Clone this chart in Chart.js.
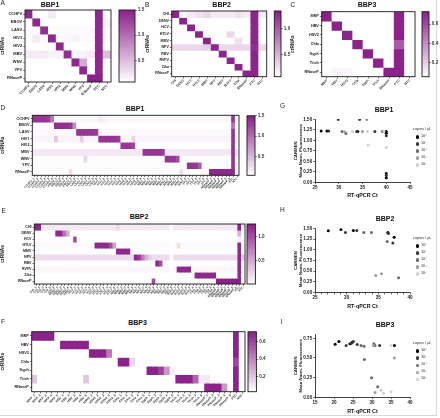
<!DOCTYPE html>
<html><head><meta charset="utf-8">
<script src="https://cdn.jsdelivr.net/npm/chart.js@4"></script>
<style>
html,body{margin:0;padding:0;background:#fff;}
body{width:440px;height:418px;position:relative;overflow:hidden;font-family:"Liberation Sans",Arial,sans-serif;}
canvas{position:absolute;}
.t{position:absolute;font-weight:bold;font-size:7px;transform:translate(-50%,-50%);white-space:nowrap;color:#111;}
.l{position:absolute;font-size:6.5px;color:#222;line-height:1;}
.lg{position:absolute;font-size:3.8px;color:#333;line-height:1;white-space:nowrap;}
.lg .row{position:absolute;left:0;white-space:nowrap;}
.lg .dot{position:absolute;width:3.4px;height:3.4px;border-radius:50%;left:3px;top:-1.7px;}
.lg .txt{position:absolute;left:8px;top:-2px;}
.frame{position:absolute;left:0;top:0;width:436px;height:415px;border-right:1px solid #d8d8d8;border-bottom:1px solid #d8d8d8;}
</style></head><body>
<div class="frame"></div>
<script>
// ---------------- DATA ----------------
// Panel A (BBP1 summary)
const aRows = ["CCHFV","EBOV","LASV","HIV1","HIV2","MBV","WNV","YFV","RNaseP"];
const aCols = ["CCHFV","EBOV","LASV","HIV1","HIV2","MBV","WNV","YFV","RNaseP","PTC","NTC"];
const aCCHFV = [1.45,0.05,0.05,0.2,0.05,0.05,0.05,0.05,0.05,1.45,0.1];
const aEBOV  = [0.05,1.45,0.05,0.05,0.05,0.05,0.05,0.05,0.05,1.45,0.15];
const aLASV  = [0.1,0.1,1.4,0.1,0.1,0.1,0.1,0.1,0.1,1.45,0.1];
const aHIV1  = [0.1,0.2,0.1,1.45,0.1,0.12,0.15,0.1,0.1,1.45,0.1];
const aHIV2  = [0.05,0.05,0.05,0.05,1.45,0.05,0.05,0.05,0.05,1.45,0.05];
const aMBV   = [0.2,0.2,0.2,0.15,0.15,1.4,0.15,0.15,0.2,1.45,0.5];
const aWNV   = [0.05,0.05,0.05,0.05,0.05,0.05,1.45,0.6,0.05,1.45,0.05];
const aYFV   = [0.05,0.05,0.05,0.05,0.05,0.05,0.05,1.45,0.05,1.45,0.05];
const aRNaseP= [0.05,0.05,0.05,0.05,0.05,0.05,0.05,0.05,1.5,1.5,0.05];

// Panel B (BBP2 summary)
const bRows = ["CHI","DENV","HCV","HTLV","MMV","NPV","RBV","RVFV","Zika","RNaseP"];
const bCols = ["CHI","DENV","HCV","HTLV","MMV","NPV","RBV","RVFV","Zika","RNaseP","PTC","NTC"];
const bCHI   = [1.3,0.15,0.2,0.25,0.3,0.2,0.2,0.2,0.25,0.2,1.3,0.2];
const bDENV  = [0.03,1.3,0.03,0.03,0.03,0.03,0.03,0.03,0.03,0.03,1.3,0.03];
const bHCV   = [0.03,0.03,1.3,0.03,0.03,0.03,0.03,0.03,0.03,0.03,1.3,0.03];
const bHTLV  = [0.1,0.1,0.1,1.3,0.1,0.1,0.1,0.3,0.1,0.1,1.3,0.1];
const bMMV   = [0.05,0.05,0.05,0.05,1.3,0.05,0.05,0.05,0.25,0.05,1.3,0.05];
const bNPV   = [0.3,0.3,0.3,0.3,0.35,1.3,0.3,0.3,0.3,0.3,1.25,0.3];
const bRBV   = [0.05,0.05,0.05,0.05,0.05,0.05,1.3,0.05,0.05,0.05,1.3,0.05];
const bRVFV  = [0.1,0.1,0.1,0.1,0.1,0.1,0.1,1.3,0.1,0.1,1.3,0.1];
const bZika  = [0.03,0.03,0.03,0.03,0.03,0.03,0.03,0.03,1.3,0.03,1.3,0.03];
const bRNaseP= [0.03,0.03,0.03,0.03,0.03,0.03,0.03,0.03,0.03,1.3,1.3,0.03];

// Panel C (BBP3 summary)
const cRows = ["MKP","HBV","HSV2","Chla","Syph","Trich","RNaseP"];
const cCols = ["MKP","HBV","HSV2","Chla","Syph","Trich","RNaseP","PTC","NTC"];
const cMKP   = [0.72,0.04,0.04,0.04,0.04,0.04,0.04,0.72,0.02];
const cHBV   = [0.03,0.72,0.03,0.03,0.03,0.03,0.03,0.72,0.02];
const cHSV2  = [0.03,0.03,0.72,0.03,0.03,0.03,0.03,0.72,0.02];
const cChla  = [0.03,0.03,0.03,0.72,0.03,0.03,0.03,0.55,0.02];
const cSyph  = [0.04,0.04,0.04,0.04,0.72,0.04,0.04,0.72,0.02];
const cTrich = [0.03,0.03,0.03,0.03,0.03,0.72,0.03,0.72,0.02];
const cRNaseP= [0.03,0.08,0.08,0.03,0.03,0.03,0.72,0.72,0.02];

// Panel D (BBP1 per sample)
const dRows = aRows;
const dCols = ("CCHFV_1,CCHFV_2,CCHFV_3,CCHFV_4,CCHFV_5,CCHFV_6,EBOV_1,EBOV_2,EBOV_3,EBOV_4,EBOV_5,EBOV_6,"+
 "LASV_1,LASV_2,LASV_3,LASV_4,LASV_5,LASV_6,HIV1_1,HIV1_2,HIV1_3,HIV1_4,HIV1_5,HIV1_6,"+
 "HIV2_1,HIV2_2,HIV2_3,HIV2_4,HIV2_5,HIV2_6,MBV_1,MBV_2,MBV_3,MBV_4,MBV_5,MBV_6,"+
 "WNV_1,WNV_2,WNV_3,WNV_4,WNV_5,WNV_6,YFV_1,YFV_2,YFV_3,YFV_4,YFV_5,YFV_6,"+
 "RNaseP_1,RNaseP_2,RNaseP_3,RNaseP_4,RNaseP_5,RNaseP_6,PTC,NTC").split(",");
const dCCHFV = [1.35,1.35,1.35,1.35,1.3,0.9, 0.08,0.08,0.08,0.08,0.08,0.08, 0.08,0.08,0.08,0.08,0.08,0.08, 0.15,0.12,0.08,0.08,0.08,0.08, 0.08,0.08,0.08,0.08,0.08,0.08, 0.08,0.08,0.08,0.08,0.08,0.08, 0.08,0.08,0.08,0.08,0.08,0.08, 0.08,0.08,0.08,0.08,0.08,0.08, 0.08,0.08,0.08,0.08,0.08,0.08, 1.35,0.06];
const dEBOV  = [0.03,0.03,0.03,0.03,0.03,0.03, 1.4,1.4,1.4,1.4,1.35,0.8, 0.03,0.03,0.03,0.03,0.03,0.03, 0.03,0.03,0.03,0.03,0.03,0.03, 0.03,0.03,0.03,0.03,0.03,0.03, 0.03,0.03,0.03,0.03,0.03,0.03, 0.03,0.03,0.03,0.03,0.03,0.03, 0.03,0.03,0.03,0.03,0.03,0.03, 0.03,0.03,0.03,0.03,0.03,0.03, 1.0,0.05];
const dLASV  = [0.07,0.07,0.07,0.07,0.07,0.07, 0.07,0.07,0.07,0.07,0.07,0.07, 1.35,1.35,1.35,1.35,1.35,1.3, 0.07,0.07,0.07,0.07,0.07,0.07, 0.07,0.07,0.07,0.07,0.07,0.07, 0.07,0.07,0.07,0.07,0.07,0.07, 0.07,0.07,0.07,0.07,0.07,0.07, 0.07,0.07,0.07,0.07,0.07,0.07, 0.07,0.07,0.07,0.07,0.07,0.07, 1.35,0.07];
const dHIV1  = [0.1,0.1,0.1,0.1,0.1,0.1, 0.4,0.1,0.1,0.1,0.1,0.1, 0.1,0.35,0.1,0.1,0.1,0.1, 1.35,1.35,1.35,1.35,1.35,1.3, 0.1,0.1,0.1,0.3,0.1,0.1, 0.1,0.1,0.1,0.1,0.1,0.1, 0.1,0.1,0.1,0.1,0.1,0.1, 0.1,0.1,0.1,0.1,0.1,0.1, 0.1,0.1,0.1,0.1,0.1,0.1, 1.35,0.1];
const dHIV2  = [0.03,0.03,0.03,0.03,0.03,0.03, 0.03,0.03,0.03,0.03,0.03,0.03, 0.03,0.03,0.03,0.03,0.03,0.03, 0.03,0.03,0.03,0.03,0.03,0.03, 1.35,1.35,1.35,1.25,0.03,0.03, 0.03,0.03,0.03,0.03,0.03,0.03, 0.03,0.03,0.03,0.03,0.03,0.03, 0.03,0.03,0.03,0.03,0.03,0.03, 0.03,0.03,0.03,0.03,0.03,0.03, 1.35,0.03];
const dMBV   = [0.18,0.18,0.18,0.18,0.18,0.18, 0.18,0.18,0.18,0.18,0.18,0.18, 0.18,0.18,0.18,0.18,0.18,0.18, 0.18,0.18,0.18,0.18,0.18,0.18, 0.18,0.18,0.18,0.18,0.18,0.18, 1.35,1.35,1.35,1.35,1.35,1.3, 0.18,0.18,0.18,0.18,0.18,0.18, 0.18,0.18,0.18,0.18,0.18,0.18, 0.18,0.18,0.18,0.18,0.18,0.18, 1.35,0.2];
const dWNV   = [0.04,0.04,0.04,0.04,0.04,0.04, 0.04,0.04,0.04,0.04,0.04,0.04, 0.04,0.04,0.3,0.04,0.04,0.04, 0.04,0.04,0.04,0.04,0.04,0.04, 0.04,0.04,0.04,0.04,0.04,0.04, 0.04,0.04,0.04,0.04,0.04,0.04, 1.35,1.35,1.35,1.2,0.04,0.04, 0.04,0.04,0.04,0.04,0.04,0.04, 0.04,0.04,0.04,0.04,0.04,0.04, 1.35,0.04];
const dYFV   = [0.05,0.05,0.05,0.05,0.05,0.05, 0.05,0.05,0.05,0.05,0.05,0.05, 0.05,0.05,0.05,0.05,0.05,0.05, 0.05,0.05,0.05,0.05,0.05,0.05, 0.05,0.05,0.05,0.05,0.05,0.05, 0.05,0.05,0.05,0.05,0.05,0.05, 0.05,0.05,0.05,0.05,0.05,0.05, 1.35,1.35,1.35,1.1,0.05,0.05, 0.05,0.05,0.05,0.05,0.05,0.05, 1.35,0.05];
const dRNaseP= [0.03,0.03,0.03,0.03,0.03,0.03, 0.03,0.03,0.03,0.03,0.25,0.03, 0.03,0.03,0.03,0.03,0.03,0.03, 0.03,0.03,0.03,0.03,0.03,0.03, 0.03,0.03,0.03,0.03,0.03,0.03, 0.03,0.03,0.03,0.03,0.03,0.03, 0.03,0.03,0.03,0.03,0.25,0.03, 0.03,0.03,0.03,0.03,0.03,0.03, 1.45,1.45,1.45,1.45,1.45,1.45, 1.45,0.05];

// Panel E (BBP2 per sample)
const eRows = bRows;
const eCols = ("CHI_1,CHI_2,CHI_3,CHI_4,CHI_5,CHI_6,DENV_1,DENV_2,DENV_3,DENV_4,DENV_5,"+
 "HCV_1,HCV_2,HCV_3,HCV_4,HCV_5,HCV_6,HTLV_1,HTLV_2,HTLV_3,HTLV_4,HTLV_5,HTLV_6,"+
 "MMV_1,MMV_2,MMV_3,MMV_4,MMV_5,NPV_1,NPV_2,NPV_3,NPV_4,NPV_5,NPV_6,RBV_1,RBV_2,RBV_3,RBV_4,RBV_5,"+
 "RVFV_1,RVFV_2,RVFV_3,RVFV_4,RVFV_5,RVFV_6,Zika_1,Zika_2,Zika_3,Zika_4,Zika_5,Zika_6,"+
 "RNaseP_1,RNaseP_2,RNaseP_3,RNaseP_4,RNaseP_5,RNaseP_6,PTC,NTC").split(",");
const eCHI   = [1.25,1.2,0.15,0.15,0.15,0.15, 0.15,0.15,0.15,0.15,0.15, 0.15,0.15,0.15,0.15,0.15,0.15, 0.15,0.15,0.15,0.15,0.15,0.15, 0.25,0.15,0.15,0.15,0.15, 0.15,0.15,0.15,0.15,0.15,0.15, 0.15,0.15,0.15,0.15,0, 0.15,0.15,0.15,0.15,0.15,0.15, 0.15,0.15,0.15,0.15,0.15,0.15, 0.15,0.15,0.15,0.15,0.15,0.15, 1.25,0.15];
const eDENV  = [0.02,0.02,0.02,0.02,0.02,0.02, 1.2,1.2,0.8,0.5,0.02, 0.02,0.02,0.02,0.02,0.02,0.02, 0.02,0.02,0.02,0.02,0.02,0.02, 0.02,0.02,0.02,0.02,0.02, 0.02,0.02,0.02,0.02,0.02,0.02, 0.02,0.02,0.02,0.02,0, 0.02,0.02,0.02,0.02,0.02,0.02, 0.02,0.02,0.02,0.02,0.02,0.02, 0.02,0.02,0.02,0.02,0.02,0.02, 0.45,0.02];
const eHCV   = [0.02,0.02,0.02,0.02,0.02,0.02, 0.02,0.02,0.02,0.02,0.02, 1.0,0.02,0.02,0.02,0.02,0.02, 0.02,0.02,0.02,0.02,0.02,0.02, 0.02,0.02,0.02,0.02,0.02, 0.02,0.02,0.02,0.02,0.02,0.02, 0.02,0.02,0.02,0.02,0, 0.02,0.02,0.02,0.02,0.02,0.02, 0.02,0.02,0.02,0.02,0.02,0.02, 0.02,0.02,0.02,0.02,0.02,0.02, 0.1,0.02];
const eHTLV  = [0.06,0.06,0.06,0.06,0.06,0.06, 0.06,0.06,0.06,0.06,0.06, 0.06,0.06,0.06,0.06,0.06,0.06, 1.2,1.2,1.2,1.2,1.0,0.55, 0.06,0.06,0.06,0.06,0.06, 0.06,0.06,0.06,0.06,0.06,0.06, 0.06,0.06,0.06,0.06,0, 0.06,0.2,0.06,0.06,0.06,0.06, 0.06,0.06,0.06,0.06,0.06,0.06, 0.06,0.06,0.06,0.06,0.06,0.06, 1.2,0.06];
const eMMV   = [0.04,0.04,0.04,0.04,0.04,0.04, 0.04,0.04,0.04,0.04,0.04, 0.04,0.04,0.04,0.04,0.04,0.04, 0.04,0.04,0.04,0.04,0.04,0.04, 1.2,1.2,1.2,1.2,0.04, 0.04,0.04,0.04,0.04,0.04,0.04, 0.04,0.04,0.04,0.04,0, 0.04,0.04,0.04,0.04,0.04,0.04, 0.04,0.04,0.04,0.04,0.04,0.04, 0.04,0.04,0.04,0.04,0.04,0.04, 1.2,0.04];
const eNPV   = [0.22,0.22,0.22,0.22,0.22,0.22, 0.22,0.22,0.22,0.22,0.22, 0.22,0.22,0.22,0.22,0.22,0.22, 0.22,0.22,0.22,0.22,0.22,0.22, 0.22,0.22,0.22,0.22,0.22, 1.2,1.1,0.75,0.45,0.3,0.22, 0.22,0.22,0.22,0.22,0, 0.22,0.22,0.22,0.22,0.22,0.22, 0.22,0.22,0.22,0.22,0.22,0.22, 0.22,0.22,0.22,0.22,0.22,0.22, 1.2,0.3];
const eRBV   = [0.03,0.03,0.03,0.03,0.03,0.03, 0.03,0.03,0.03,0.03,0.03, 0.03,0.03,0.03,0.03,0.03,0.03, 0.03,0.03,0.03,0.03,0.03,0.03, 0.03,0.03,0.03,0.03,0.03, 0.03,0.03,0.03,0.03,0.03,0.03, 1.2,1.0,0.03,0.03,0, 0.03,0.03,0.03,0.03,0.03,0.03, 0.03,0.03,0.03,0.03,0.03,0.03, 0.03,0.03,0.03,0.03,0.03,0.03, 1.2,0.03];
const eRVFV  = [0.08,0.08,0.08,0.08,0.08,0.08, 0.08,0.08,0.08,0.08,0.08, 0.08,0.08,0.08,0.08,0.08,0.08, 0.08,0.08,0.08,0.08,0.08,0.08, 0.08,0.08,0.08,0.08,0.08, 0.08,0.08,0.08,0.08,0.08,0.08, 0.08,0.08,0.08,0.08,0, 0.08,1.2,1.2,1.2,1.2,0.08, 0.08,0.08,0.08,0.08,0.08,0.08, 0.08,0.08,0.08,0.08,0.08,0.08, 1.2,0.08];
const eZika  = [0.03,0.03,0.03,0.03,0.03,0.03, 0.03,0.03,0.03,0.03,0.03, 0.03,0.03,0.03,0.03,0.03,0.03, 0.03,0.03,0.03,0.03,0.03,0.03, 0.03,0.03,0.03,0.03,0.03, 0.03,0.03,0.03,0.03,0.03,0.03, 0.03,0.03,0.03,0.03,0, 0.03,0.03,0.03,0.03,0.03,0.03, 1.2,1.2,1.2,1.2,1.2,1.2, 0.03,0.03,0.03,0.03,0.03,0.03, 1.2,0.03];
const eRNaseP= [0.02,0.02,0.02,0.02,0.02,0.02, 0.02,0.02,0.02,0.02,0.02, 0.02,0.02,0.02,0.02,0.02,0.02, 0.02,0.02,0.02,0.02,0.02,0.02, 0.02,0.02,0.02,0.02,0.02, 0.02,0.02,0.02,0.02,0.02,1.0, 0.02,0.02,0.02,0.02,0, 0.02,0.02,0.02,0.02,0.02,0.02, 0.02,0.02,0.02,0.02,0.02,0.02, 1.25,1.25,1.25,1.25,1.25,1.25, 1.25,0.02];

// Panel F (BBP3 per sample)
const fRows = cRows;
const fCols = ("MKP_1,MKP_2,MKP_3,MKP_4,MKP_5,HBV_1,HBV_2,HBV_3,HBV_4,HBV_5,HSV2_1,HSV2_2,HSV2_3,HSV2_4,HSV2_5,"+
 "Chla_1,Chla_2,Chla_3,Chla_4,Chla_5,Syph_1,Syph_2,Syph_3,Syph_4,Syph_5,Trich_1,Trich_2,Trich_3,Trich_4,Trich_5,"+
 "RNaseP_1,RNaseP_2,RNaseP_3,RNaseP_4,RNaseP_5,PTC,NTC").split(",");
const fMKP   = [0.7,0.7,0.7,0.7,0.03, 0.03,0.03,0.03,0.03,0.03, 0.03,0.03,0.03,0.03,0.03, 0.03,0.03,0.03,0.03,0.03, 0.03,0.03,0.03,0.03,0.03, 0.03,0.03,0.03,0.03,0.03, 0.03,0.03,0.03,0.03,0.03, 0.7,0.02];
const fHBV   = [0.02,0.02,0.02,0.02,0.02, 0.7,0.7,0.7,0.7,0.7, 0.02,0.02,0.02,0.02,0.02, 0.02,0.02,0.02,0.02,0.02, 0.02,0.02,0.02,0.02,0.02, 0.02,0.02,0.02,0.02,0.02, 0.02,0.02,0.02,0.02,0.02, 0.7,0.02];
const fHSV2  = [0.02,0.02,0.02,0.02,0.02, 0.02,0.02,0.02,0.02,0.02, 0.7,0.7,0.7,0.45,0.02, 0.02,0.02,0.02,0.02,0.02, 0.02,0.02,0.02,0.02,0.02, 0.02,0.02,0.02,0.02,0.02, 0.02,0.02,0.02,0.02,0.02, 0.7,0.02];
const fChla  = [0.02,0.02,0.02,0.02,0.02, 0.02,0.02,0.02,0.02,0.02, 0.02,0.02,0.02,0.02,0.02, 0.7,0.7,0.15,0.02,0.02, 0.02,0.02,0.02,0.02,0.02, 0.02,0.02,0.02,0.02,0.02, 0.02,0.02,0.02,0.02,0.02, 0.6,0.02];
const fSyph  = [0.02,0.02,0.02,0.02,0.02, 0.02,0.02,0.02,0.02,0.02, 0.02,0.02,0.02,0.02,0.02, 0.02,0.02,0.02,0.02,0.02, 0.7,0.7,0.6,0.35,0.08, 0.02,0.02,0.02,0.02,0.02, 0.02,0.02,0.02,0.02,0.02, 0.7,0.02];
const fTrich = [0.2,0.02,0.02,0.02,0.02, 0.02,0.02,0.02,0.02,0.2, 0.02,0.02,0.02,0.02,0.02, 0.02,0.02,0.02,0.02,0.02, 0.02,0.02,0.02,0.02,0.02, 0.7,0.7,0.7,0.5,0.1, 0.1,0.02,0.02,0.02,0.02, 0.7,0.02];
const fRNaseP= [0.02,0.02,0.02,0.02,0.02, 0.02,0.02,0.02,0.02,0.02, 0.02,0.02,0.02,0.02,0.02, 0.02,0.02,0.02,0.02,0.02, 0.02,0.02,0.02,0.02,0.02, 0.02,0.02,0.02,0.02,0.02, 0.7,0.7,0.7,0.35,0.02, 0.7,0.02];

// Colour-bar tick labels
const abTicks = [0.5, 1.0, 1.5];
const bTicks = [0.5, 1.0];
const cTicks = [0.2, 0.4, 0.6];

// Scatter G (BBP1), H (BBP2), I (BBP3): Ct, fluorescence, concentration level index
const concLabels = ["10\u2076","10\u2075","10\u2074","10\u00b3","10\u00b2"];
const gCt = [26.3,27.5,27.9,29.9,30.7,31.3,31.5,32.9,33.8,34.0,34.4,35.0,35.9,36.0,36.2,37.6,39.2,39.5,40,40,40,40,40,40,40];
const gFl = [1.22,1.22,1.22,1.50,1.21,1.20,1.16,1.21,1.21,1.21,1.50,1.21,1.50,1.21,0.89,1.21,1.21,1.21,1.21,1.17,1.11,0.83,0.21,0.16,0.11];
const gLv = [0,0,1,0,2,3,2,4,1,0,0,3,2,4,4,1,2,4,0,0,1,4,0,1,0];
const hCt = [27.1,29.1,29.8,31.05,31.6,32.7,33.9,34.6,35.5,36.4,36.5,36.6,37.3,37.5,38.2];
const hFl = [1.445,1.47,1.40,1.45,1.45,1.40,1.40,0.40,0.44,1.19,1.40,1.38,1.16,1.29,0.35];
const hLv = [0,0,1,0,1,2,2,3,3,2,0,1,1,0,2];
const iCt = [20.3,21.3,23.2,24.2,24.5,24.8,25.1,26.1,27.1,27.9,28.0,29.9,30.4,30.5,30.8,30.8,31.5,32.0,32.4,33.0,35.0,35.0,35.9,35.9];
const iFl = [0.674,0.71,0.66,0.68,0.685,0.70,0.71,0.67,0.66,0.65,0.48,0.25,0.66,0.68,0.66,0.06,0.135,0.66,0.09,0.05,0.07,0.66,0.66,0.50];
const iLv = [0,0,1,0,1,0,1,1,2,2,2,2,3,2,2,3,2,1,4,4,4,4,0,3];

// ---------------- RENDERING ----------------
const FONT = '"Liberation Sans", Arial, sans-serif';
const PURPLE = [138, 32, 136];
const LEVEL_COLORS = ['#000000','#383838','#6a6a6a','#9c9c9c','#d0d0d0'];
Chart.defaults.font.family = FONT;
Chart.defaults.color = '#222';

function cmap(v, lo, hi){
  let t = (v - lo) / (hi - lo); t = Math.max(0, Math.min(1, t));
  const c = [0,1,2].map(k => Math.round(255 + (PURPLE[k]-255)*t));
  return `rgb(${c[0]},${c[1]},${c[2]})`;
}
function makeCanvas(left, top, w, h){
  const c = document.createElement('canvas');
  c.width = w; c.height = h;
  c.style.left = left+'px'; c.style.top = top+'px'; c.style.width = w+'px'; c.style.height = h+'px';
  document.body.appendChild(c);
  return c;
}
function addText(cls, txt, x, y, extra){
  const d = document.createElement('div'); d.className = cls; d.textContent = txt;
  d.style.left = x+'px'; d.style.top = y+'px';
  if (extra) Object.assign(d.style, extra);
  document.body.appendChild(d);
}
const frame = {id:'frame', afterDatasetsDraw(chart){
  const a = chart.chartArea, c = chart.ctx;
  c.save(); c.strokeStyle = '#1a1a1a'; c.lineWidth = 0.9;
  c.strokeRect(a.left, a.top, a.right - a.left, a.bottom - a.top); c.restore();
}};

function heatmap(o){
  const cv = makeCanvas(o.left, o.top, o.w, o.h);
  const R = o.rows.length;
  o.values.forEach((r,i)=>{ if(r.length!==o.cols.length) console.error('len mismatch', o.rows[i], r.length, o.cols.length); });
  const datasets = o.rows.map((name, r) => ({
    label: name,
    data: o.cols.map(() => [R-1-r, R-r]),
    backgroundColor: o.values[r].map(v => cmap(v, o.lo, o.hi)),
    borderWidth: 0, grouped: false, barPercentage: 1, categoryPercentage: 1, inflateAmount: 0.45
  }));
  const yW = o.box[0] - o.left, xH = o.top + o.h - o.box[3];
  new Chart(cv, {
    type: 'bar',
    data: {labels: o.cols, datasets},
    options: {
      responsive: false, animation: false, events: [],
      layout: {padding: {top: o.box[1] - o.top, right: o.left + o.w - o.box[2], left: 0, bottom: 0}},
      plugins: {legend: {display: false}, tooltip: {enabled: false}},
      scales: {
        x: {type: 'category', offset: true,
            grid: {offset: false, drawOnChartArea: false, tickLength: 1.8, color: '#222', lineWidth: 0.6},
            border: {display: false},
            ticks: {autoSkip: false, maxRotation: 45, minRotation: 45, padding: 0,
                    font: {size: o.xFont, weight: 'bold'}, color: '#333'},
            afterFit(s){ s.height = xH; }},
        y: {type: 'linear', min: 0, max: R,
            grid: {drawOnChartArea: false, tickLength: 1.8, color: '#222', lineWidth: 0.6},
            border: {display: false},
            afterBuildTicks(s){ s.ticks = o.rows.map((_, i) => ({value: R - 1 - i + 0.5})); },
            ticks: {autoSkip: false, padding: 1, font: {size: o.yFont, weight: 'bold'}, color: '#222',
                    callback: (v) => o.rows[R - 1 - Math.floor(v)]},
            title: {display: true, text: 'crRNAs', font: {size: 4.8, weight: 'bold'}, padding: 0, color: '#222'},
            afterFit(s){ s.width = yW; }}
      }
    },
    plugins: [frame]
  });
}

function colorbar(o){
  const cv = makeCanvas(o.left, o.top, o.w, o.h);
  new Chart(cv, {
    type: 'bar',
    data: {labels: [''], datasets: [{
      data: [[o.lo, o.hi]],
      backgroundColor: (ctx) => {
        const a = ctx.chart.chartArea; if (!a) return 'rgb(138,32,136)';
        const g = ctx.chart.ctx.createLinearGradient(0, a.bottom, 0, a.top);
        g.addColorStop(0, cmap(o.lo, o.lo, o.hi)); g.addColorStop(0.5, cmap((o.lo+o.hi)/2, o.lo, o.hi)); g.addColorStop(1, cmap(o.hi, o.lo, o.hi));
        return g;
      },
      barPercentage: 1, categoryPercentage: 1, borderWidth: 0}]},
    options: {
      responsive: false, animation: false, events: [],
      layout: {padding: {left: o.box[0] - o.left, top: o.box[1] - o.top, bottom: o.top + o.h - o.box[3], right: 0}},
      plugins: {legend: {display: false}, tooltip: {enabled: false}},
      scales: {
        x: {display: false},
        y: {position: 'right', min: o.lo, max: o.hi,
            afterBuildTicks(s){ s.ticks = o.ticks.map(v => ({value: v})); },
            ticks: {autoSkip: false, callback: v => v.toFixed(1), padding: 1, font: {size: 4.6, weight: 'bold'}, color: '#333'},
            grid: {drawOnChartArea: false, tickLength: 1.8, color: '#222', lineWidth: 0.6},
            border: {display: false},
            afterFit(s){ s.width = o.left + o.w - o.box[2]; }}
      }
    },
    plugins: [frame]
  });
}

function scatter(o){
  const cv = makeCanvas(o.left, o.top, o.w, o.h);
  const datasets = [4,3,2,1,0].map(L => ({
    label: concLabels[L],
    data: o.ct.map((x, i) => ({x, y: o.fl[i], l: o.lv[i]})).filter(p => p.l === L),
    pointBackgroundColor: LEVEL_COLORS[L], pointBorderWidth: 0, pointRadius: o.r, showLine: false
  }));
  const yW = o.box[0] - o.left, xH = o.top + o.h - o.box[3];
  new Chart(cv, {
    type: 'scatter',
    data: {datasets},
    options: {
      responsive: false, animation: false, events: [],
      layout: {padding: {top: o.box[1] - o.top, right: o.left + o.w - o.box[2], left: 0, bottom: 0}},
      plugins: {legend: {display: false}, tooltip: {enabled: false}},
      scales: {
        x: {type: 'linear', min: o.xmin, max: o.xmax,
            afterBuildTicks(s){ const t = []; for (let v = o.xmin; v <= o.xmax + 1e-9; v += o.xstep) t.push({value: v}); s.ticks = t; },
            ticks: {autoSkip: false, maxRotation: 0, padding: 0.5, font: {size: 4.6, weight: 'bold'}, color: '#222',
                    callback: v => (Math.abs(v % 5) < 1e-9 ? String(Math.round(v)) : '')},
            grid: {drawOnChartArea: false, tickLength: 1.8, color: '#111', lineWidth: 0.6},
            border: {display: true, color: '#111', width: 0.8},
            title: {display: true, text: 'RT-qPCR Ct', font: {size: 5.4, weight: 'bold'}, padding: 0, color: '#111'},
            afterFit(s){ s.height = xH; }},
        y: {type: 'linear', min: 0, max: o.ymax,
            ticks: {stepSize: 0.25, autoSkip: false, includeBounds: false, padding: 1, font: {size: 4.6, weight: 'bold'}, color: '#222',
                    callback: v => v.toFixed(2)},
            grid: {drawOnChartArea: false, tickLength: 1.8, color: '#111', lineWidth: 0.6},
            border: {display: true, color: '#111', width: 0.8},
            title: {display: true, text: ['CARMEN', 'Mean Norm. Fluorescence'], font: {size: 4.3, weight: 'bold'}, padding: 0, color: '#111'},
            afterFit(s){ s.width = yW; }}
      }
    }
  });
}

function legend(x, y, step){
  const d = document.createElement('div'); d.className = 'lg';
  d.style.left = x + 'px'; d.style.top = y + 'px';
  let html = '<div class="row" style="top:-2px;left:0">copies / \u00b5L</div>';
  concLabels.forEach((lab, i) => {
    html += `<div class="row" style="top:${7 + i*step}px"><span class="dot" style="background:${LEVEL_COLORS[i]}"></span><span class="txt">${lab}</span></div>`;
  });
  d.innerHTML = html;
  document.body.appendChild(d);
}

// ---- Panels A, B, C ----
heatmap({left: 0, top: 0, w: 113, h: 105, box: [25, 10, 111, 82], rows: aRows, cols: aCols,
  values: [aCCHFV,aEBOV,aLASV,aHIV1,aHIV2,aMBV,aWNV,aYFV,aRNaseP], lo: 0.07, hi: 1.5, xFont: 3.6, yFont: 4});
colorbar({left: 117, top: 0, w: 30, h: 105, box: [119, 10, 135, 82], lo: 0.07, hi: 1.5, ticks: abTicks});
heatmap({left: 145, top: 0, w: 124, h: 100, box: [171.7, 11, 266.7, 76.7], rows: bRows, cols: bCols,
  values: [bCHI,bDENV,bHCV,bHTLV,bMMV,bNPV,bRBV,bRVFV,bZika,bRNaseP], lo: 0.09, hi: 1.33, xFont: 3.4, yFont: 3.6});
colorbar({left: 272, top: 0, w: 24, h: 100, box: [274.3, 11, 281, 76.7], lo: 0.09, hi: 1.33, ticks: bTicks});
heatmap({left: 290, top: 0, w: 127, h: 100, box: [321.7, 11.7, 415, 76.7], rows: cRows, cols: cCols,
  values: [cMKP,cHBV,cHSV2,cChla,cSyph,cTrich,cRNaseP], lo: 0.05, hi: 0.73, xFont: 3.4, yFont: 3.8});
colorbar({left: 420, top: 0, w: 20, h: 100, box: [422, 11.7, 429, 76.7], lo: 0.05, hi: 0.73, ticks: cTicks});

// ---- Panels D, E, F ----
heatmap({left: 0, top: 112, w: 241, h: 86, box: [32.3, 114.3, 239, 175.3], rows: dRows, cols: dCols,
  values: [dCCHFV,dEBOV,dLASV,dHIV1,dHIV2,dMBV,dWNV,dYFV,dRNaseP], lo: 0.03, hi: 1.5, xFont: 2.9, yFont: 3.8});
colorbar({left: 245, top: 112, w: 20, h: 86, box: [247, 114.3, 255, 175.3], lo: 0.03, hi: 1.5, ticks: abTicks});
heatmap({left: 0, top: 220, w: 247, h: 84, box: [34.3, 224, 245, 284], rows: eRows, cols: eCols,
  values: [eCHI,eDENV,eHCV,eHTLV,eMMV,eNPV,eRBV,eRVFV,eZika,eRNaseP], lo: 0.03, hi: 1.25, xFont: 2.9, yFont: 3.6});
colorbar({left: 245.3, top: 220, w: 20, h: 84, box: [247.3, 224, 255.7, 284], lo: 0.03, hi: 1.25, ticks: bTicks});
heatmap({left: 0, top: 328, w: 247, h: 86, box: [31.7, 331.7, 245, 391.7], rows: fRows, cols: fCols,
  values: [fMKP,fHBV,fHSV2,fChla,fSyph,fTrich,fRNaseP], lo: 0.03, hi: 0.71, xFont: 3.2, yFont: 3.8});
colorbar({left: 246.3, top: 328, w: 20, h: 86, box: [248.3, 331.7, 256.7, 391.7], lo: 0.03, hi: 0.71, ticks: cTicks});

// ---- Panels G, H, I ----
scatter({left: 293, top: 112, w: 122, h: 87, box: [315, 119.3, 410, 182.3], ct: gCt, fl: gFl, lv: gLv,
  xmin: 25, xmax: 45, xstep: 5, ymax: 1.5, r: 1.5});
scatter({left: 293, top: 221, w: 122, h: 89, box: [315, 228.3, 410, 292.7], ct: hCt, fl: hFl, lv: hLv,
  xmin: 25, xmax: 40, xstep: 1, ymax: 1.5, r: 1.5});
scatter({left: 293, top: 327, w: 122, h: 88, box: [315, 334.4, 410, 397.3], ct: iCt, fl: iFl, lv: iLv,
  xmin: 15, xmax: 40, xstep: 5, ymax: 0.8, r: 1.5});
legend(413, 130, 7);
legend(413, 239, 7);
legend(413, 344, 7.1);

// ---- Titles and panel letters ----
addText('t', 'BBP1', 50, 4);
addText('t', 'BBP2', 221.7, 4);
addText('t', 'BBP3', 367, 4);
addText('t', 'BBP1', 135, 107.5);
addText('t', 'BBP2', 139, 216);
addText('t', 'BBP3', 137.5, 322);
addText('t', 'BBP1', 384, 109);
addText('t', 'BBP2', 385, 218);
addText('t', 'BBP3', 385, 324);
addText('l', 'A', 0.5, 0);
addText('l', 'B', 145, 1.5);
addText('l', 'C', 290.5, 1.5);
addText('l', 'D', 0.5, 105);
addText('l', 'E', 1.5, 207.5);
addText('l', 'F', 1, 319);
addText('l', 'G', 280, 102.5);
addText('l', 'H', 280, 206.5);
addText('l', 'I', 280.5, 319);
</script>
</body></html>
